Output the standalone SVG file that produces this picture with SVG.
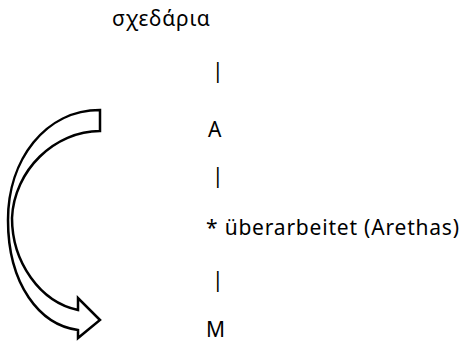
<svg xmlns="http://www.w3.org/2000/svg" width="467" height="346" viewBox="0 0 467 346">
  <style>
    .t { font-family: "Noto Sans", "Open Sans", sans-serif; font-size: 21px; letter-spacing: 0.8px; fill: #000; }
    .arrow { fill: #fff; stroke: #000; stroke-width: 2.5; stroke-linejoin: miter; }
  </style>
  <rect width="467" height="346" fill="#fff"/>
  <g id="title"><text class="t" x="112" y="26">σχεδάρια</text></g>
  <g id="connectors">
    <text class="t" x="212" y="78">|</text>
    <text class="t" x="212" y="183">|</text>
    <text class="t" x="212" y="287">|</text>
  </g>
  <g id="node-A"><text class="t" x="208" y="137">A</text></g>
  <g id="node-rev"><text class="t" x="206" y="235">* überarbeitet (Arethas)</text></g>
  <g id="node-M"><text class="t" x="206" y="337">M</text></g>
  <g id="curved-arrow">
    <path class="arrow" d="M100,110 L100,131 C55,131 14,170 12,218 C12,262 40,302 78,310 L78,298 L100,320 L78,338 L78,330 C40,325 8,285 8,220 C8,160 45,110 100,110 Z"/>
  </g>
</svg>
